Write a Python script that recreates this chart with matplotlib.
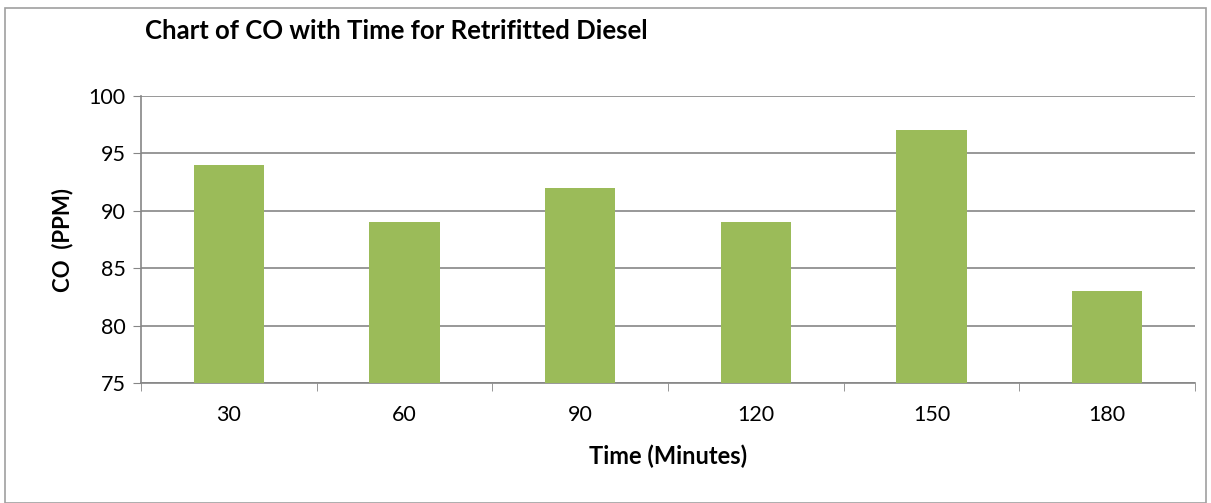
import matplotlib.pyplot as plt
from matplotlib.patches import Rectangle

# Data
times = ['30', '60', '90', '120', '150', '180']
co_ppm = [94, 89, 92, 89, 97, 83]

plt.rcParams['font.family'] = ['Lato', 'DejaVu Sans']

fig = plt.figure(figsize=(12.11, 5.03), dpi=100)
ax = fig.add_axes([141 / 1211, 1 - 383 / 503, (1195 - 141) / 1211, (383 - 96) / 503])

x = range(len(times))
ax.bar(x, co_ppm, width=0.4, color='#9BBB59', zorder=3)

ax.set_xlim(-0.5, len(times) - 0.5)
ax.set_ylim(75, 100)
ax.set_yticks(range(75, 101, 5))
ax.set_xticks(list(x))
ax.set_xticklabels(times)
ax.set_xticks([i + 0.5 for i in range(-1, len(times))], minor=True)

ax.grid(axis='y', color='#868686', linewidth=1.2, zorder=0)
for side in ['top', 'right']:
    ax.spines[side].set_visible(False)
for side in ['left', 'bottom']:
    ax.spines[side].set_color('#868686')
    ax.spines[side].set_linewidth(1.2)

ax.tick_params(axis='y', length=6, color='#868686', labelsize=15.5, pad=5)
ax.tick_params(axis='x', which='major', length=0, labelsize=15.5, pad=16)
ax.tick_params(axis='x', which='minor', length=6, color='#868686')

ax.set_xlabel('Time (Minutes)', fontsize=17, fontweight='bold', labelpad=14)
ax.set_ylabel('CO  (PPM)', fontsize=16, fontweight='bold', labelpad=11)

fig.text(145 / 1211, 1 - 31 / 503, 'Chart of CO with Time for Retrifitted Diesel',
         fontsize=18.5, fontweight='bold', va='center', ha='left')

# outer chart border
fig.patches.append(Rectangle((5 / 1211, 0.0), 1201 / 1211, 1 - 8 / 503,
                             transform=fig.transFigure, fill=False,
                             edgecolor='#A0A0A0', linewidth=1.2))

fig.savefig('out.png', dpi=100)
